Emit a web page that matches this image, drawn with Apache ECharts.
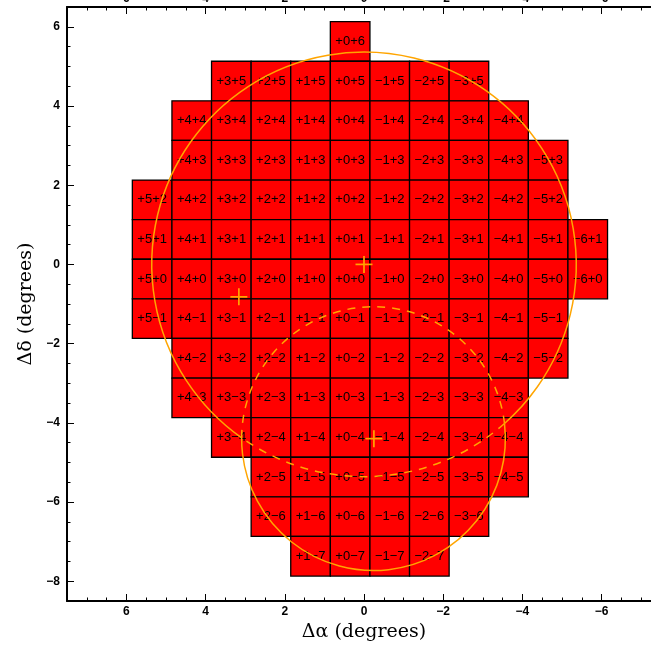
<!DOCTYPE html>
<html>
<head>
<meta charset="utf-8">
<style>
  html, body { margin: 0; padding: 0; background: #fff; }
  #chart { width: 651px; height: 647px; }
</style>
<script src="https://cdn.jsdelivr.net/npm/echarts@6/dist/echarts.min.js"></script>
</head>
<body>
<div id="chart"></div>
<script>
const chart = echarts.init(document.getElementById("chart"));

// ==========================
// DATA
// ==========================

// one row of pointings per declination offset, RA offsets run from max to min
const ROW_DEC    = [6, 5, 4, 3, 2, 1, 0, -1, -2, -3, -4, -5, -6, -7];
const ROW_RA_MAX = [0, 3, 4, 4, 5, 5, 5, 5, 4, 4, 3, 2, 2, 1];
const ROW_RA_MIN = [0, -3, -4, -5, -5, -6, -6, -5, -5, -4, -4, -4, -3, -2];

// grid of pointings is shifted a bit off the origin
const GRID_DX = 0.35;
const GRID_DY = -0.37;

// circles (degrees)
const CIRCLE_X = [0, -0.24];
const CIRCLE_Y = [0, -4.40];
const CIRCLE_R = [5.36, 3.33];

// cross markers
const CROSS_X = [0, 3.16, -0.25];
const CROSS_Y = [0, -0.82, -4.40];

// axis ticks
const X_MAJOR = [-6, -4, -2, 0, 2, 4, 6];
const X_MINOR = [-7.5, -7, -6.5, -5.5, -5, -4.5, -3.5, -3, -2.5, -1.5, -1, -0.5,
                 0.5, 1, 1.5, 2.5, 3, 3.5, 4.5, 5, 5.5, 6.5, 7, 7.5];
const Y_MAJOR = [-8, -6, -4, -2, 0, 2, 4, 6];
const Y_MINOR = [-8.5, -7.5, -7, -6.5, -5.5, -5, -4.5, -3.5, -3, -2.5, -1.5, -1, -0.5,
                 0.5, 1, 1.5, 2.5, 3, 3.5, 4.5, 5, 5.5, 6.5];

const ORANGE = "#ffa500";
const MINUS = "\u2212";

// ==========================
// HELPERS
// ==========================

const sgn = v => (v < 0 ? MINUS + (-v) : "+" + v);
const tickFmt = v => (v < 0 ? MINUS + (-v) : String(v));

const cells = [];
ROW_DEC.forEach((b, i) => {
  for (let a = ROW_RA_MAX[i]; a >= ROW_RA_MIN[i]; a--) {
    cells.push([a, b]);
  }
});

const tickLabel = {
  color: "#000",
  fontFamily: "Liberation Sans",
  fontWeight: "bold",
  fontSize: 12
};

function majorAxis(pos, opts) {
  return Object.assign({
    type: "value",
    position: pos,
    axisLine: { show: true, onZero: false, lineStyle: { color: "#000", width: 2 } },
    splitLine: { show: false }
  }, opts);
}

function minorAxis(pos, opts) {
  return Object.assign({
    type: "value",
    position: pos,
    axisLine: { show: false, onZero: false },
    axisLabel: { show: false },
    splitLine: { show: false }
  }, opts);
}

const majorTick = vals => ({ show: true, inside: true, length: 7, customValues: vals,
                             lineStyle: { color: "#000", width: 1 } });
const minorTick = vals => ({ show: true, inside: true, length: 3.5, customValues: vals,
                             lineStyle: { color: "#000", width: 1 } });

const xr = { min: -7.5, max: 7.5, inverse: true };
const yr = { min: -8.5, max: 6.5 };

// ==========================
// INIT
// ==========================

chart.setOption({
  animation: false,
  grid: { left: 67, top: 7, width: 594, height: 594, outerBoundsMode: "none", containLabel: false },

  xAxis: [
    majorAxis("bottom", Object.assign({}, xr, {
      axisTick: majorTick(X_MAJOR),
      axisLabel: Object.assign({ customValues: X_MAJOR, margin: 5, formatter: tickFmt }, tickLabel),
      name: "\u0394\u03b1 (degrees)",
      nameLocation: "middle",
      nameGap: 22,
      nameTextStyle: { fontFamily: "DejaVu Serif", fontSize: 19, color: "#000" }
    })),
    minorAxis("bottom", Object.assign({}, xr, { axisTick: minorTick(X_MINOR) })),
    majorAxis("top", Object.assign({}, xr, {
      axisTick: majorTick(X_MAJOR),
      axisLabel: Object.assign({ customValues: X_MAJOR, margin: 2, formatter: tickFmt }, tickLabel)
    })),
    minorAxis("top", Object.assign({}, xr, { axisTick: minorTick(X_MINOR) }))
  ],

  yAxis: [
    majorAxis("left", Object.assign({}, yr, {
      axisTick: majorTick(Y_MAJOR),
      axisLabel: Object.assign({ customValues: Y_MAJOR, margin: 7, formatter: tickFmt }, tickLabel),
      name: "\u0394\u03b4 (degrees)",
      nameLocation: "middle",
      nameGap: 27,
      nameTextStyle: { fontFamily: "DejaVu Serif", fontSize: 19, color: "#000" }
    })),
    minorAxis("left", Object.assign({}, yr, { axisTick: minorTick(Y_MINOR) }))
  ],

  series: [
    // pointing squares
    {
      type: "custom",
      xAxisIndex: 0,
      yAxisIndex: 0,
      z: 1,
      data: cells,
      renderItem: (params, api) => {
        const a = api.value(0);
        const b = api.value(1);
        const x = a + GRID_DX;
        const y = b + GRID_DY;
        const p1 = api.coord([x + 0.5, y + 0.5]);
        const p2 = api.coord([x - 0.5, y - 0.5]);
        const c = api.coord([x, y]);
        return {
          type: "group",
          children: [
            {
              type: "rect",
              shape: {
                x: Math.min(p1[0], p2[0]),
                y: Math.min(p1[1], p2[1]),
                width: Math.abs(p2[0] - p1[0]),
                height: Math.abs(p2[1] - p1[1])
              },
              style: { fill: "#ff0000", stroke: "#000", lineWidth: 1.3 }
            },
            {
              type: "text",
              style: {
                x: c[0],
                y: c[1],
                text: sgn(a) + sgn(b),
                fill: "#000",
                font: '13px "Liberation Sans"',
                align: "center",
                verticalAlign: "middle",
                textAlign: "center",
                textVerticalAlign: "middle"
              }
            }
          ]
        };
      }
    },

    // circles: part inside the other circle dashed, rest solid
    {
      type: "custom",
      xAxisIndex: 0,
      yAxisIndex: 0,
      z: 2,
      data: CIRCLE_X.map((x, i) => [x, CIRCLE_Y[i], CIRCLE_R[i]]),
      renderItem: (params, api) => {
        const i = params.dataIndex;
        const j = 1 - i;
        const c = api.coord([CIRCLE_X[i], CIRCLE_Y[i]]);
        const o = api.coord([CIRCLE_X[j], CIRCLE_Y[j]]);
        const r = api.size([CIRCLE_R[i], CIRCLE_R[i]])[0];
        const ro = api.size([CIRCLE_R[j], CIRCLE_R[j]])[0];
        const d = Math.hypot(o[0] - c[0], o[1] - c[1]);
        const phi = Math.atan2(o[1] - c[1], o[0] - c[0]);
        const half = Math.acos((d * d + r * r - ro * ro) / (2 * d * r));
        return {
          type: "group",
          children: [
            {
              type: "arc",
              shape: { cx: c[0], cy: c[1], r: r, startAngle: phi - half, endAngle: phi + half, clockwise: true },
              style: { stroke: ORANGE, fill: null, lineWidth: 1.5, lineDash: [8, 7] }
            },
            {
              type: "arc",
              shape: { cx: c[0], cy: c[1], r: r, startAngle: phi + half, endAngle: phi - half + 2 * Math.PI, clockwise: true },
              style: { stroke: ORANGE, fill: null, lineWidth: 1.5 }
            }
          ]
        };
      }
    },

    // cross markers
    {
      type: "custom",
      xAxisIndex: 0,
      yAxisIndex: 0,
      z: 3,
      data: CROSS_X.map((x, i) => [x, CROSS_Y[i]]),
      renderItem: (params, api) => {
        const c = api.coord([api.value(0), api.value(1)]);
        const s = 8.5;
        const st = { stroke: ORANGE, lineWidth: 1.7 };
        return {
          type: "group",
          children: [
            { type: "line", shape: { x1: c[0] - s, y1: c[1], x2: c[0] + s, y2: c[1] }, style: st },
            { type: "line", shape: { x1: c[0], y1: c[1] - s, x2: c[0], y2: c[1] + s }, style: st }
          ]
        };
      }
    }
  ]
});
</script>
</body>
</html>
